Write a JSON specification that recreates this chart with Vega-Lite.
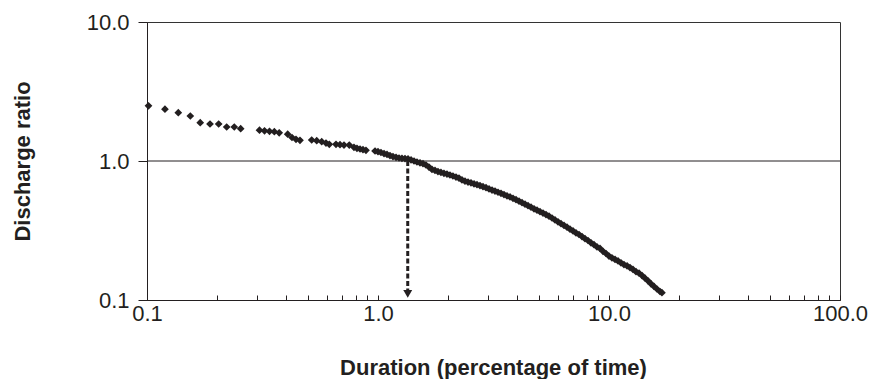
{
  "$schema": "https://vega.github.io/schema/vega-lite/v6.json",
  "width": 693,
  "height": 278,
  "autosize": "none",
  "padding": {"left": 147, "top": 22, "right": 31, "bottom": 79},
  "background": "white",
  "datasets": {
    "pts": [
      {"duration": 0.1015, "ratio": 2.495},
      {"duration": 0.1196, "ratio": 2.359},
      {"duration": 0.1366, "ratio": 2.226},
      {"duration": 0.154, "ratio": 2.107},
      {"duration": 0.17, "ratio": 1.886},
      {"duration": 0.1874, "ratio": 1.846},
      {"duration": 0.2043, "ratio": 1.846},
      {"duration": 0.2213, "ratio": 1.756},
      {"duration": 0.2387, "ratio": 1.756},
      {"duration": 0.2544, "ratio": 1.708},
      {"duration": 0.3069, "ratio": 1.666},
      {"duration": 0.3227, "ratio": 1.649},
      {"duration": 0.3391, "ratio": 1.635},
      {"duration": 0.3558, "ratio": 1.624},
      {"duration": 0.3735, "ratio": 1.595},
      {"duration": 0.4065, "ratio": 1.559},
      {"duration": 0.4243, "ratio": 1.476},
      {"duration": 0.4416, "ratio": 1.433},
      {"duration": 0.4595, "ratio": 1.409},
      {"duration": 0.5164, "ratio": 1.416},
      {"duration": 0.5429, "ratio": 1.4},
      {"duration": 0.5707, "ratio": 1.377},
      {"duration": 0.5955, "ratio": 1.347},
      {"duration": 0.6154, "ratio": 1.318},
      {"duration": 0.658, "ratio": 1.318},
      {"duration": 0.6848, "ratio": 1.31},
      {"duration": 0.7126, "ratio": 1.303},
      {"duration": 0.751, "ratio": 1.303},
      {"duration": 0.787, "ratio": 1.255},
      {"duration": 0.811, "ratio": 1.234},
      {"duration": 0.836, "ratio": 1.22},
      {"duration": 0.861, "ratio": 1.206},
      {"duration": 0.887, "ratio": 1.194},
      {"duration": 0.971, "ratio": 1.18},
      {"duration": 1.0, "ratio": 1.166},
      {"duration": 1.03, "ratio": 1.151},
      {"duration": 1.062, "ratio": 1.132},
      {"duration": 1.094, "ratio": 1.114},
      {"duration": 1.127, "ratio": 1.095},
      {"duration": 1.161, "ratio": 1.077},
      {"duration": 1.197, "ratio": 1.063},
      {"duration": 1.233, "ratio": 1.051},
      {"duration": 1.27, "ratio": 1.046},
      {"duration": 1.309, "ratio": 1.041},
      {"duration": 1.349, "ratio": 1.034},
      {"duration": 1.39, "ratio": 1.017},
      {"duration": 1.432, "ratio": 1.0},
      {"duration": 1.475, "ratio": 0.9836},
      {"duration": 1.52, "ratio": 0.9706},
      {"duration": 1.566, "ratio": 0.956},
      {"duration": 1.613, "ratio": 0.936},
      {"duration": 1.662, "ratio": 0.905},
      {"duration": 1.713, "ratio": 0.869},
      {"duration": 1.765, "ratio": 0.855},
      {"duration": 1.818, "ratio": 0.84},
      {"duration": 1.873, "ratio": 0.827},
      {"duration": 1.93, "ratio": 0.816},
      {"duration": 1.989, "ratio": 0.806},
      {"duration": 2.049, "ratio": 0.793},
      {"duration": 2.111, "ratio": 0.78},
      {"duration": 2.176, "ratio": 0.766},
      {"duration": 2.242, "ratio": 0.752},
      {"duration": 2.31, "ratio": 0.731},
      {"duration": 2.38, "ratio": 0.716},
      {"duration": 2.453, "ratio": 0.706},
      {"duration": 2.527, "ratio": 0.697},
      {"duration": 2.604, "ratio": 0.685},
      {"duration": 2.683, "ratio": 0.675},
      {"duration": 2.764, "ratio": 0.666},
      {"duration": 2.848, "ratio": 0.654},
      {"duration": 2.935, "ratio": 0.643},
      {"duration": 3.024, "ratio": 0.63},
      {"duration": 3.116, "ratio": 0.618},
      {"duration": 3.21, "ratio": 0.608},
      {"duration": 3.308, "ratio": 0.596},
      {"duration": 3.408, "ratio": 0.586},
      {"duration": 3.511, "ratio": 0.573},
      {"duration": 3.618, "ratio": 0.562},
      {"duration": 3.728, "ratio": 0.551},
      {"duration": 3.841, "ratio": 0.539},
      {"duration": 3.958, "ratio": 0.527},
      {"duration": 4.078, "ratio": 0.514},
      {"duration": 4.202, "ratio": 0.501},
      {"duration": 4.329, "ratio": 0.489},
      {"duration": 4.461, "ratio": 0.477},
      {"duration": 4.596, "ratio": 0.465},
      {"duration": 4.736, "ratio": 0.453},
      {"duration": 4.879, "ratio": 0.443},
      {"duration": 5.027, "ratio": 0.432},
      {"duration": 5.18, "ratio": 0.422},
      {"duration": 5.337, "ratio": 0.412},
      {"duration": 5.499, "ratio": 0.401},
      {"duration": 5.666, "ratio": 0.389},
      {"duration": 5.838, "ratio": 0.377},
      {"duration": 6.015, "ratio": 0.365},
      {"duration": 6.198, "ratio": 0.354},
      {"duration": 6.386, "ratio": 0.344},
      {"duration": 6.58, "ratio": 0.334},
      {"duration": 6.779, "ratio": 0.323},
      {"duration": 6.985, "ratio": 0.314},
      {"duration": 7.197, "ratio": 0.304},
      {"duration": 7.416, "ratio": 0.296},
      {"duration": 7.641, "ratio": 0.286},
      {"duration": 7.873, "ratio": 0.276},
      {"duration": 8.111, "ratio": 0.268},
      {"duration": 8.358, "ratio": 0.258},
      {"duration": 8.611, "ratio": 0.25},
      {"duration": 8.873, "ratio": 0.241},
      {"duration": 9.142, "ratio": 0.235},
      {"duration": 9.419, "ratio": 0.224},
      {"duration": 9.705, "ratio": 0.216},
      {"duration": 10.0, "ratio": 0.207},
      {"duration": 10.3, "ratio": 0.201},
      {"duration": 10.62, "ratio": 0.196},
      {"duration": 10.94, "ratio": 0.191},
      {"duration": 11.27, "ratio": 0.185},
      {"duration": 11.61, "ratio": 0.18},
      {"duration": 11.97, "ratio": 0.176},
      {"duration": 12.33, "ratio": 0.171},
      {"duration": 12.7, "ratio": 0.166},
      {"duration": 13.09, "ratio": 0.16},
      {"duration": 13.49, "ratio": 0.156},
      {"duration": 13.9, "ratio": 0.15},
      {"duration": 14.32, "ratio": 0.1435},
      {"duration": 14.75, "ratio": 0.1374},
      {"duration": 15.2, "ratio": 0.1308},
      {"duration": 15.66, "ratio": 0.1251},
      {"duration": 16.13, "ratio": 0.12},
      {"duration": 16.62, "ratio": 0.1151},
      {"duration": 16.95, "ratio": 0.1128}
    ],
    "ref": [{"ratio": 1.0}],
    "arrow": [{"duration": 1.345, "ratio": 1.0, "ratio2": 0.108}],
    "head": [{"duration": 1.345, "ratio": 0.1105}]
  },
  "layer": [
    {
      "data": {"name": "ref"},
      "mark": {"type": "rule", "color": "#231f20", "strokeWidth": 1},
      "encoding": {
        "y": {"field": "ratio", "type": "quantitative", "scale": {"type": "log", "domain": [0.1, 10], "nice": false}}
      }
    },
    {
      "data": {"name": "pts"},
      "mark": {"type": "point", "shape": "diamond", "filled": true, "size": 24, "color": "#231f20", "stroke": "#231f20", "strokeWidth": 2, "opacity": 1},
      "encoding": {
        "x": {
          "field": "duration", "type": "quantitative",
          "scale": {"type": "log", "domain": [0.1, 100], "nice": false},
          "axis": {
            "title": "Duration (percentage of time)",
            "values": [0.1,0.2,0.3,0.4,0.5,0.6,0.7,0.8,0.9,1,2,3,4,5,6,7,8,9,10,20,30,40,50,60,70,80,90,100],
            "labelExpr": "indexof([0.1,1,10,100], datum.value) >= 0 ? format(datum.value, '.1f') : ''",
            "tickSize": -5,
            "labelPadding": 8,
            "labelOverlap": false,
            "labelFlush": false,
            "labelBound": false,
            "titleX": 346,
            "titleY": 67,
            "titleBaseline": "middle",
            "titleAlign": "center"
          }
        },
        "y": {
          "field": "ratio", "type": "quantitative",
          "scale": {"type": "log", "domain": [0.1, 10], "nice": false},
          "axis": {
            "title": "Discharge ratio",
            "values": [0.1, 1, 10],
            "format": ".1f",
            "tickSize": 9,
            "labelPadding": 9,
            "labelOverlap": false,
            "labelFlush": false,
            "titleX": -125,
            "titleY": 139,
            "titleAngle": -90,
            "titleBaseline": "middle",
            "titleAlign": "center"
          }
        }
      }
    },
    {
      "data": {"name": "arrow"},
      "mark": {"type": "rule", "color": "#231f20", "strokeWidth": 3, "strokeDash": [5, 2.5]},
      "encoding": {
        "x": {"field": "duration", "type": "quantitative"},
        "y": {"field": "ratio", "type": "quantitative"},
        "y2": {"field": "ratio2"}
      }
    },
    {
      "data": {"name": "head"},
      "mark": {"type": "point", "shape": "triangle-down", "filled": true, "size": 80, "color": "#231f20", "opacity": 1},
      "encoding": {
        "x": {"field": "duration", "type": "quantitative"},
        "y": {"field": "ratio", "type": "quantitative"}
      }
    }
  ],
  "config": {
    "view": {"stroke": "#333", "strokeWidth": 1},
    "axis": {
      "grid": false,
      "domainColor": "#231f20",
      "tickColor": "#231f20",
      "labelColor": "#231f20",
      "titleColor": "#231f20",
      "labelFont": "Liberation Sans",
      "labelFontSize": 22,
      "titleFont": "Liberation Sans",
      "titleFontSize": 22,
      "titleFontWeight": "bold"
    }
  }
}
